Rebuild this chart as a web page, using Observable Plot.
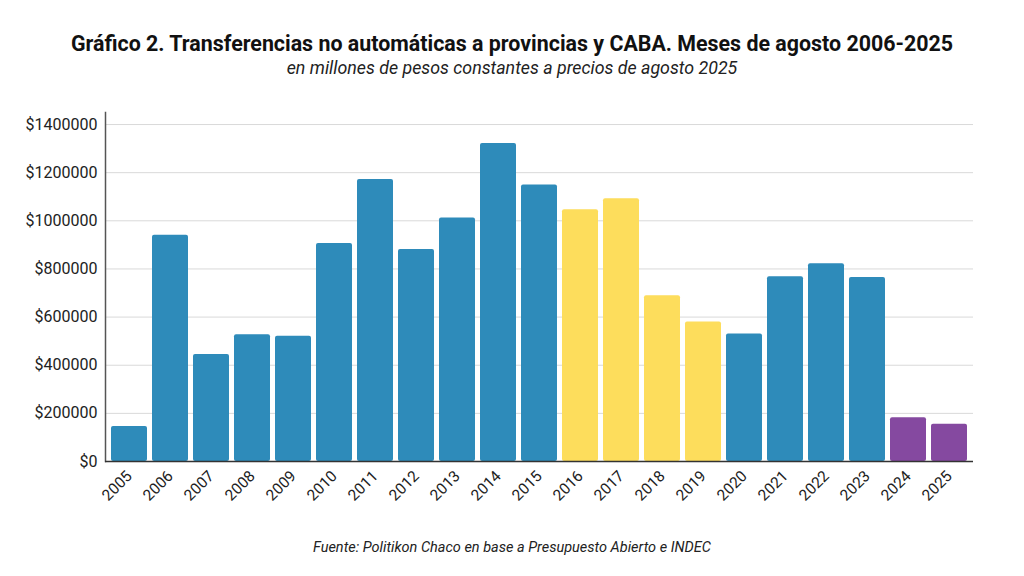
<!DOCTYPE html>
<html><head><meta charset="utf-8">
<script src="https://cdn.jsdelivr.net/npm/d3@7"></script>
<script src="https://cdn.jsdelivr.net/npm/@observablehq/plot@0.6"></script>
<style>
body{margin:0;background:#fff;font-family:Roboto,sans-serif;width:1024px;height:576px;overflow:hidden}
#hdr{height:100px;text-align:center;position:relative}
#t{position:absolute;left:0;right:0;top:30px;font-size:21.4px;font-weight:700;color:#111;line-height:28px}
#s{position:absolute;left:0;right:0;top:56px;font-size:17.8px;font-style:italic;color:#222;line-height:24px}
#cap{height:36px;line-height:36px;text-align:center;font-size:14.5px;font-style:italic;color:#222}
#chart svg{display:block}
</style></head><body>
<div id="hdr"><div id="t">Gráfico 2. Transferencias no automáticas a provincias y CABA. Meses de agosto 2006-2025</div>
<div id="s">en millones de pesos constantes a precios de agosto 2025</div></div>
<div id="chart"></div>
<div id="cap">Fuente: Politikon Chaco en base a Presupuesto Abierto e INDEC</div>
<script>
const years = ["2005","2006","2007","2008","2009","2010","2011","2012","2013","2014","2015","2016","2017","2018","2019","2020","2021","2022","2023","2024","2025"];
const values = [145000,940000,445000,527000,520000,906000,1172000,881000,1012000,1321000,1149000,1046000,1092000,689000,580000,530000,768000,822000,764000,182000,155000];
const groups = ["a","a","a","a","a","a","a","a","a","a","a","b","b","b","b","a","a","a","a","c","c"];
const groupKeys = ["a","b","c"];
const groupColors = ["#2E8BBA","#FDDD5C","#8549A0"];
const yTicks = [0,200000,400000,600000,800000,1000000,1200000,1400000];

const data = years.map((y,i)=>({year:y,value:values[i],group:groups[i]}));

const chart = Plot.plot({
  width:1024, height:430,
  marginLeft:105, marginRight:51, marginTop:12, marginBottom:69,
  style:{fontFamily:"Roboto, sans-serif", fontSize:"15px", color:"#222", background:"#fff"},
  x:{domain:years, padding:0.12, label:null},
  y:{domain:[0,1450000], label:null},
  color:{domain:groupKeys, range:groupColors},
  marks:[
    Plot.gridY(yTicks,{stroke:"#d9d9d9", strokeOpacity:1}),
    Plot.barY(data,{x:"year", y:"value", fill:"group", rx:2}),
    Plot.axisY(yTicks,{tickSize:0, tickPadding:8, tickFormat:d=>"$"+d3.format("d")(d), fontSize:16, fill:"#222", label:null}),
    Plot.axisX({tickSize:0, tickPadding:12, tickRotate:-45, fontSize:15.5, fill:"#222", label:null}),
    Plot.frame({anchor:"left", stroke:"#555", strokeWidth:1.5}),
    Plot.ruleY([0],{stroke:"#333", strokeWidth:1.5})
  ]
});
document.getElementById("chart").appendChild(chart);
</script></body></html>
